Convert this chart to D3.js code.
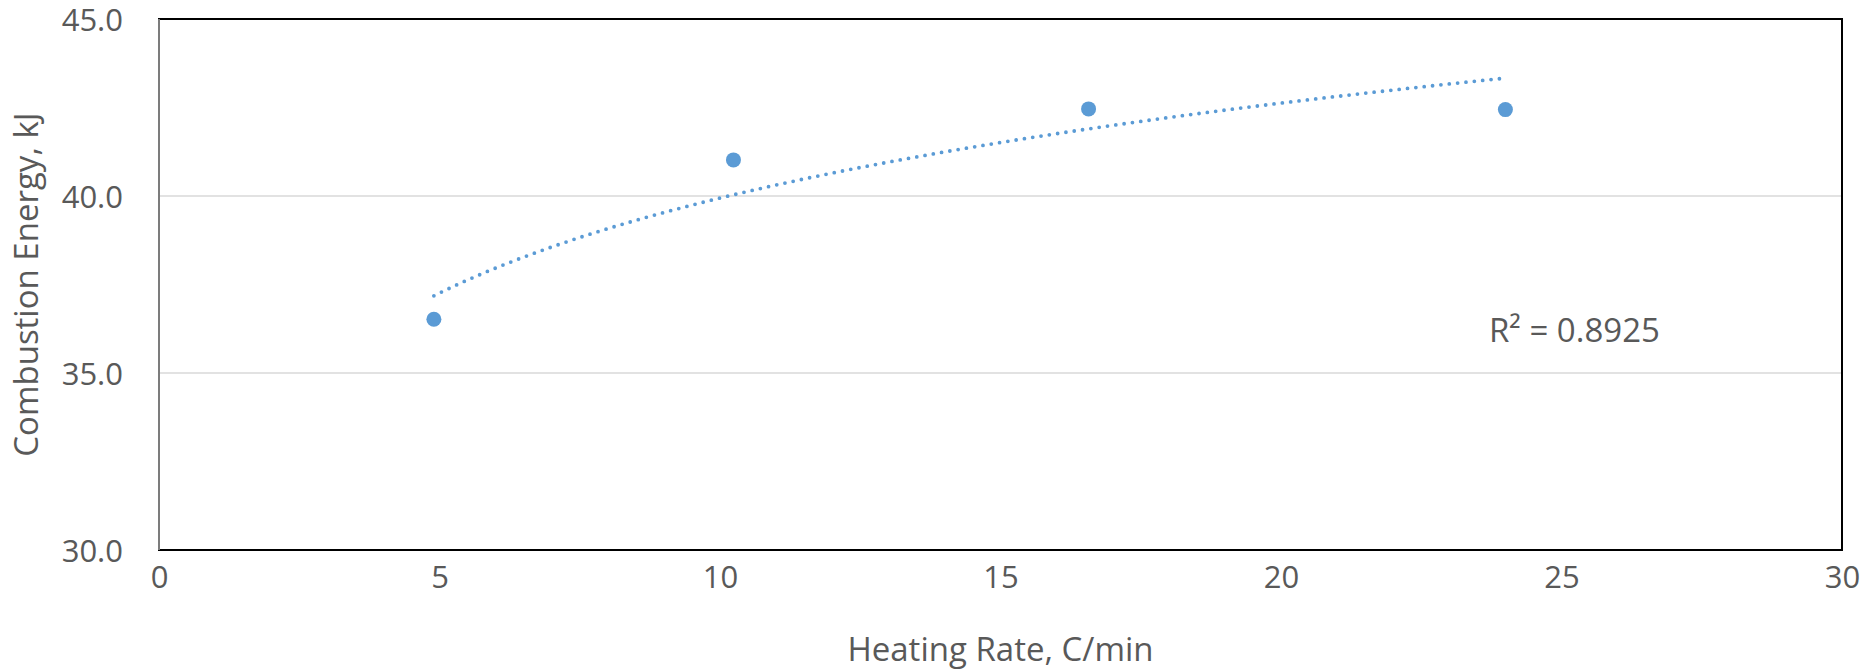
<!DOCTYPE html>
<html>
<head>
<meta charset="utf-8">
<script src="https://cdn.jsdelivr.net/npm/d3@7"></script>
<style>
  html, body { margin: 0; padding: 0; background: #fff; }
  svg text { font-family: 'Open Sans', 'Noto Sans', sans-serif; fill: #595959; }
</style>
</head>
<body>
<div id="chart"></div>
<script>
// data
const heatingRate = [4.9, 10.24, 16.57, 24.0];
const combustionEnergy = [36.52, 41.02, 42.46, 42.44];
const xTicks = [0, 5, 10, 15, 20, 25, 30];
const yTicks = [30, 35, 40, 45];
const r2Label = 'R² = 0.8925';

const width = 1868;
const height = 671;
const margin = {top: 19, right: 26, bottom: 121, left: 159};
const blue = '#5B9BD5';

const svg = d3.select('#chart')
  .append('svg')
    .attr('width', width)
    .attr('height', height);

const x = d3.scaleLinear().domain([0, 30]).range([margin.left, width - margin.right]);
const y = d3.scaleLinear().domain([30, 45]).range([height - margin.bottom, margin.top]);

// gridlines
svg.append('g')
  .selectAll('line')
  .data(yTicks.filter(d => d > 30 && d < 45))
  .join('line')
    .attr('x1', x(0))
    .attr('x2', x(30))
    .attr('y1', d => y(d))
    .attr('y2', d => y(d))
    .attr('stroke', '#d9d9d9')
    .attr('stroke-width', 1.5);

// plot border
svg.append('rect')
  .attr('x', x(0))
  .attr('y', y(45))
  .attr('width', x(30) - x(0))
  .attr('height', y(30) - y(45))
  .attr('fill', 'none')
  .attr('stroke', '#000')
  .attr('stroke-width', 2);

// left axis line is grey
svg.append('line')
  .attr('x1', x(0)).attr('x2', x(0))
  .attr('y1', y(45)).attr('y2', y(30))
  .attr('stroke', '#a6a6a6')
  .attr('stroke-width', 1.5);

// axes (labels only)
const xAxis = svg.append('g')
  .attr('transform', `translate(0,${y(30)})`)
  .call(d3.axisBottom(x).tickValues(xTicks).tickSize(0).tickPadding(38).tickFormat(d3.format('d')));
xAxis.select('.domain').remove();
xAxis.selectAll('text').attr('font-size', 31).attr('fill', '#595959')
  .attr('font-family', null).attr('dy', null);

const yAxis = svg.append('g')
  .attr('transform', `translate(${x(0)},0)`)
  .call(d3.axisLeft(y).tickValues(yTicks).tickSize(0).tickPadding(36).tickFormat(d3.format('.1f')));
yAxis.select('.domain').remove();
yAxis.selectAll('text').attr('font-size', 31).attr('fill', '#595959')
  .attr('font-family', null).attr('dy', '0.36em');

// axis titles
svg.append('text')
  .attr('x', (x(0) + x(30)) / 2)
  .attr('y', 661)
  .attr('text-anchor', 'middle')
  .attr('font-size', 33)
  .text('Heating Rate, C/min');

svg.append('text')
  .attr('transform', `translate(38,${(y(30) + y(45)) / 2}) rotate(-90)`)
  .attr('text-anchor', 'middle')
  .attr('font-size', 33)
  .text('Combustion Energy, kJ');

// logarithmic trendline fitted from the points
const lx = heatingRate.map(Math.log);
const mx = d3.mean(lx);
const my = d3.mean(combustionEnergy);
const slope = d3.sum(lx, (v, i) => (v - mx) * (combustionEnergy[i] - my)) /
  d3.sum(lx, v => (v - mx) * (v - mx));
const intercept = my - slope * mx;
const xMin = d3.min(heatingRate);
const xMax = d3.max(heatingRate);
const trendX = d3.range(0, 101).map(i => xMin + (xMax - xMin) * i / 100);

svg.append('path')
  .datum(trendX)
  .attr('fill', 'none')
  .attr('stroke', blue)
  .attr('stroke-width', 3.8)
  .attr('stroke-linecap', 'round')
  .attr('stroke-dasharray', '0 8.4')
  .attr('d', d3.line()
    .x(d => x(d))
    .y(d => y(intercept + slope * Math.log(d))));

// points
svg.append('g')
  .selectAll('circle')
  .data(heatingRate)
  .join('circle')
    .attr('cx', d => x(d))
    .attr('cy', (d, i) => y(combustionEnergy[i]))
    .attr('r', 7.5)
    .attr('fill', blue);

svg.append('text')
  .attr('x', 1489)
  .attr('y', 342)
  .attr('font-size', 33)
  .text(r2Label);
</script>
</body>
</html>
